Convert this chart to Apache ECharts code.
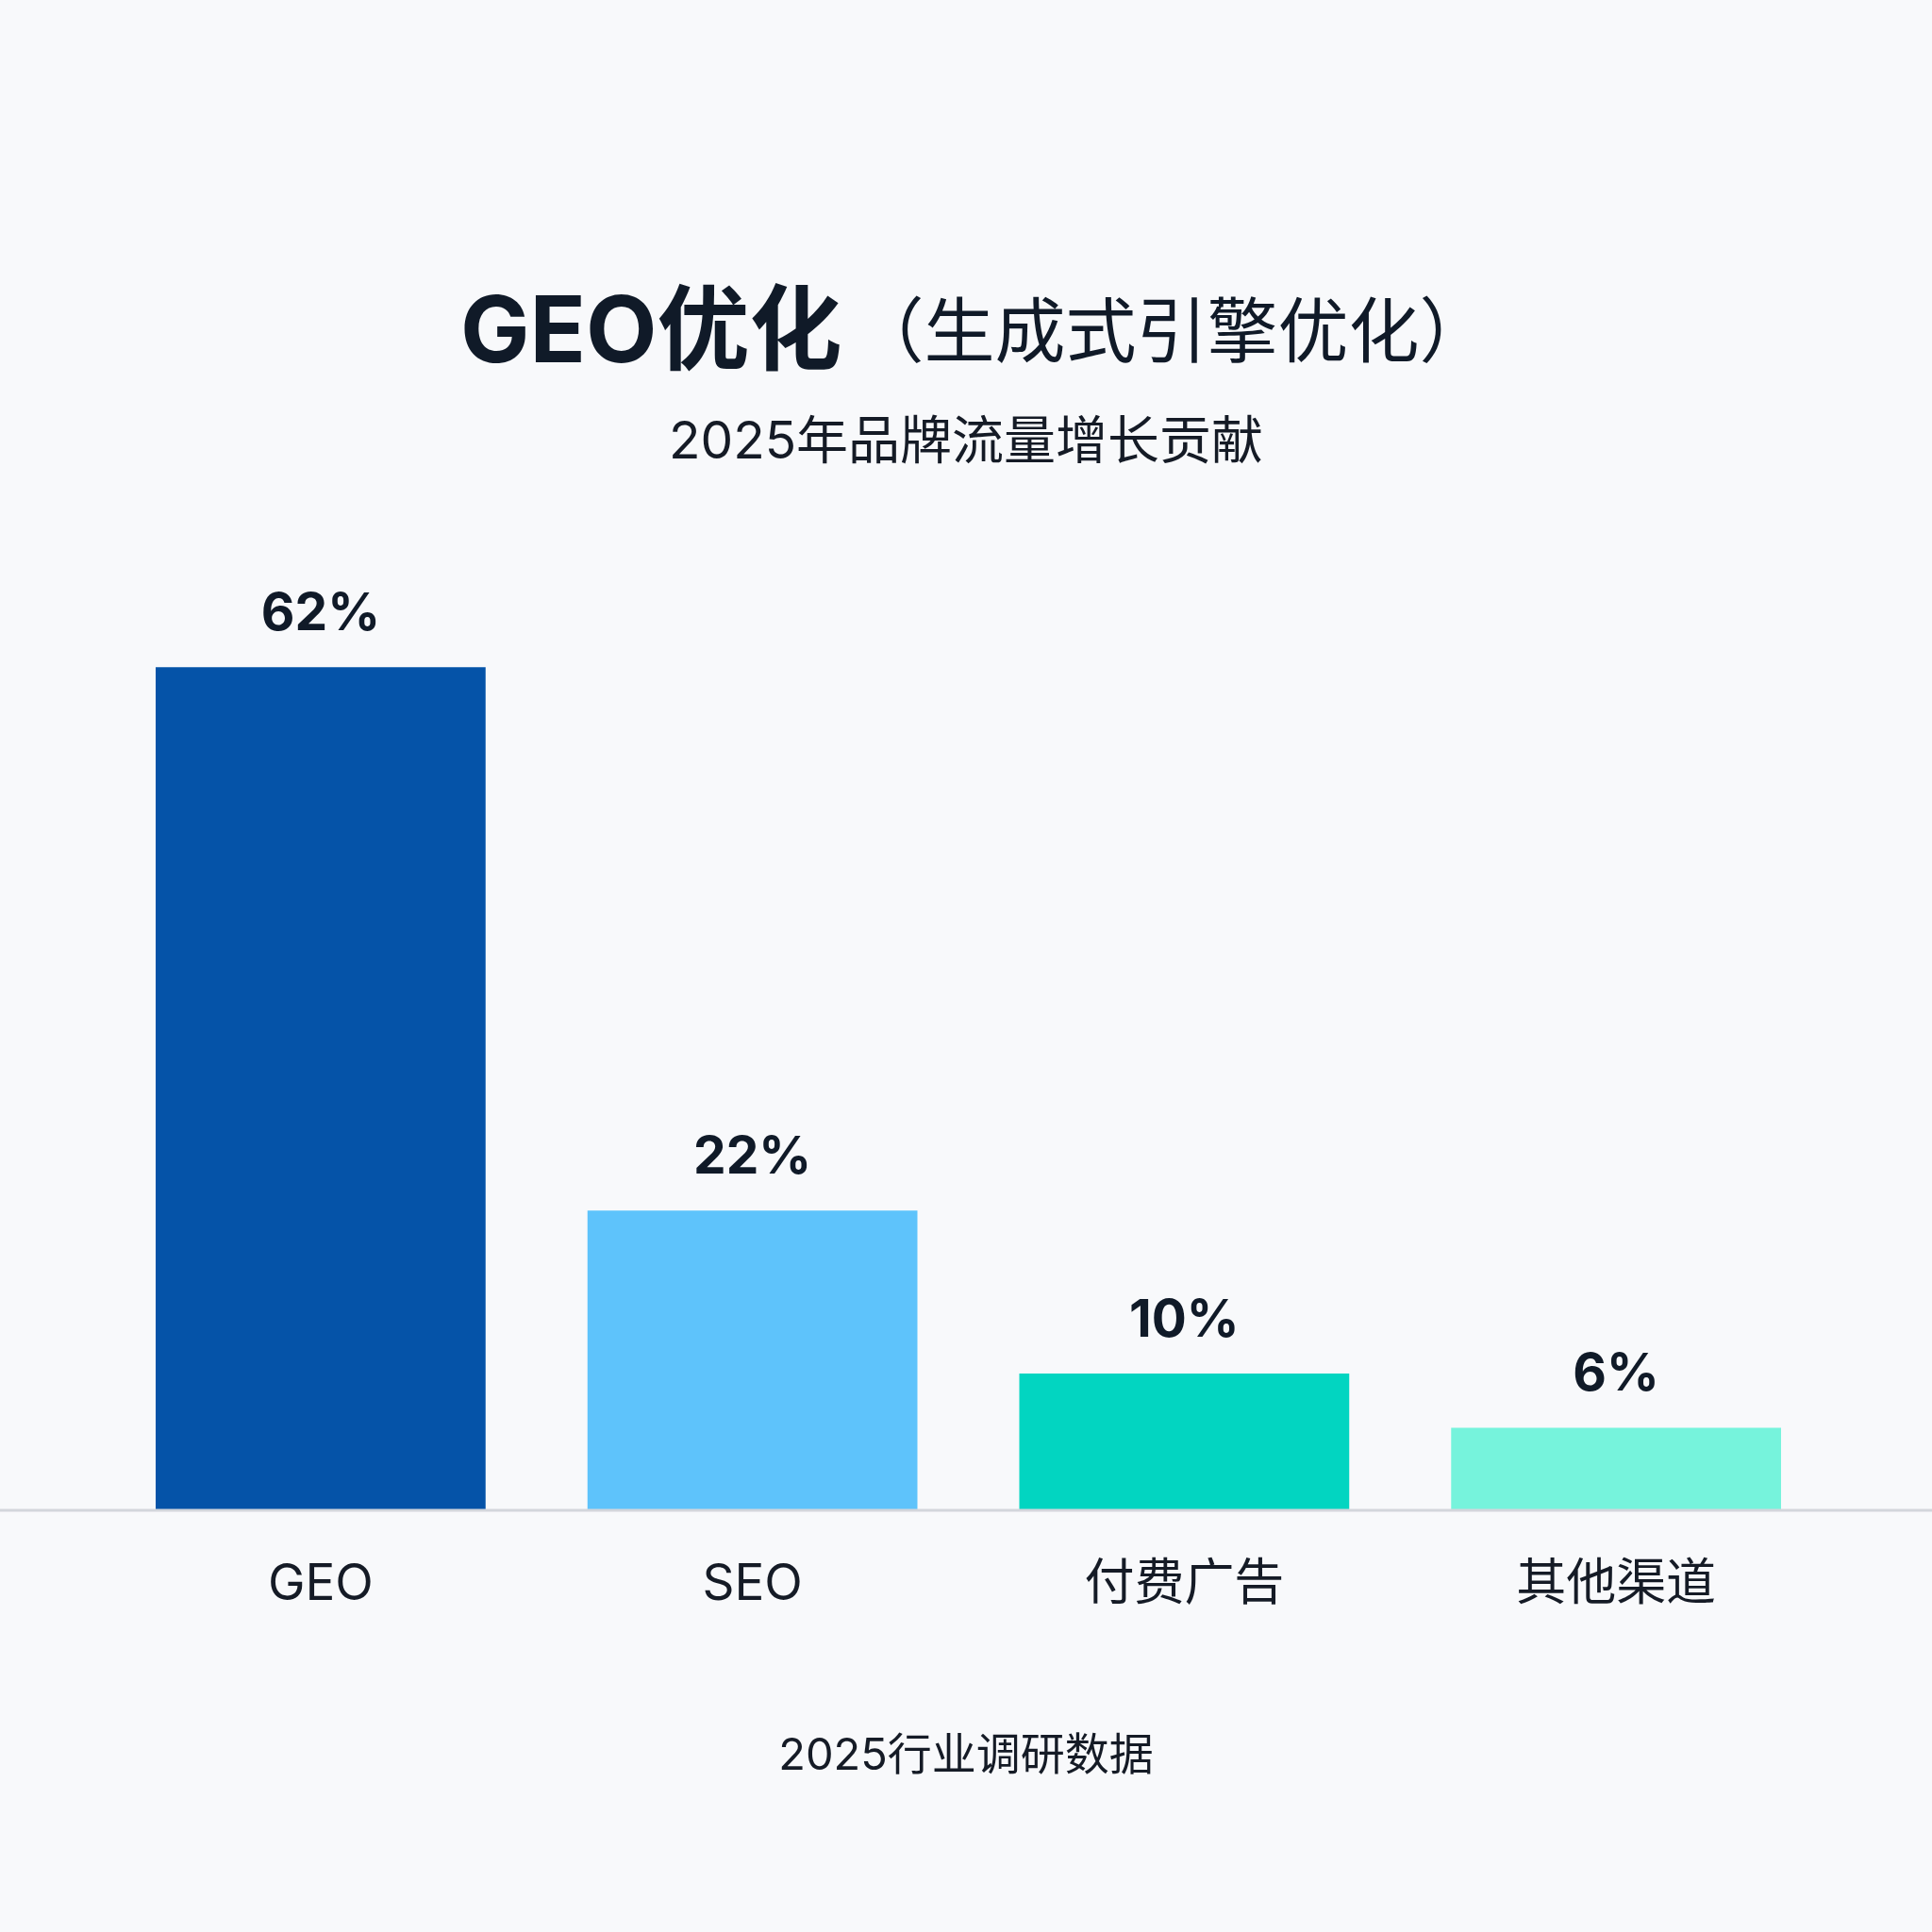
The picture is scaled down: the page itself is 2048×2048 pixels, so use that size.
<!DOCTYPE html>
<html>
<head>
<meta charset="utf-8">
<script src="https://cdn.jsdelivr.net/npm/echarts@6/dist/echarts.min.js"></script>
<style>
html,body{margin:0;padding:0;background:#f8f9fb;}
#c{width:2048px;height:2048px;}
</style>
</head>
<body>
<div id="c"></div>
<script>
const categories = ['GEO', 'SEO', '付费广告', '其他渠道'];
const values = [62, 22, 10, 6];
const barColors = ['#0553a8', '#5ec3fb', '#02d5c1', '#76f3dc'];
const titleMain = 'GEO优化';
const titleParen = '（生成式引擎优化）';
const subtitleText = '2025年品牌流量增长贡献';
const footerText = '2025行业调研数据';

const FONT = 'Inter, "Noto Sans CJK SC", "Noto Sans", sans-serif';
const chart = echarts.init(document.getElementById('c'), null, {renderer: 'canvas'});

const option = {
  backgroundColor: '#f8f9fb',
  title: [
    {
      text: '{b|' + titleMain + '}{n|' + titleParen + '}',
      left: 488, top: 300,
      padding: 0,
      textStyle: {
        rich: {
          b: {fontSize: 98, fontWeight: 'bold', color: '#101a28', fontFamily: FONT, lineHeight: 110},
          n: {fontSize: 75, fontWeight: 'normal', color: '#101a28', fontFamily: FONT, lineHeight: 110, padding: [0, 0, 0, 12]}
        }
      }
    },
    {
      text: subtitleText,
      left: 'center', top: 433,
      textStyle: {fontSize: 55, fontWeight: 'normal', color: '#151b26', fontFamily: FONT, lineHeight: 62}
    },
    {
      text: footerText,
      left: 'center', top: 1828,
      textStyle: {fontSize: 47, fontWeight: 'normal', color: '#151b26', fontFamily: FONT, lineHeight: 58}
    }
  ],
  grid: {left: 111, right: 106, top: 160, bottom: 448, containLabel: false},
  xAxis: {
    type: 'category',
    data: categories,
    axisTick: {show: false},
    axisLine: {show: false},
    axisLabel: {fontSize: 53, color: '#151b26', fontFamily: FONT, margin: 50, lineHeight: 60}
  },
  yAxis: {
    type: 'value', min: 0, max: 100,
    show: false, splitLine: {show: false}
  },
  series: [{
    type: 'bar',
    data: values.map((v, i) => ({value: v, itemStyle: {color: barColors[i]}})),
    barCategoryGap: '23.6%',
    label: {
      show: true, position: 'top', distance: 24,
      formatter: '{c}%',
      fontSize: 55, fontWeight: 'bold', color: '#101a28', fontFamily: FONT, lineHeight: 64
    }
  }],
  animation: false
};
chart.setOption(option);

// baseline across full width at value 0, positioned via the y scale
const y0 = chart.convertToPixel({yAxisIndex: 0}, 0);
chart.setOption({
  graphic: [{
    type: 'line', z: 10,
    shape: {x1: 0, y1: y0 + 1, x2: 2048, y2: y0 + 1},
    style: {stroke: '#d3d6dc', lineWidth: 3}
  }]
});
</script>
</body>
</html>
